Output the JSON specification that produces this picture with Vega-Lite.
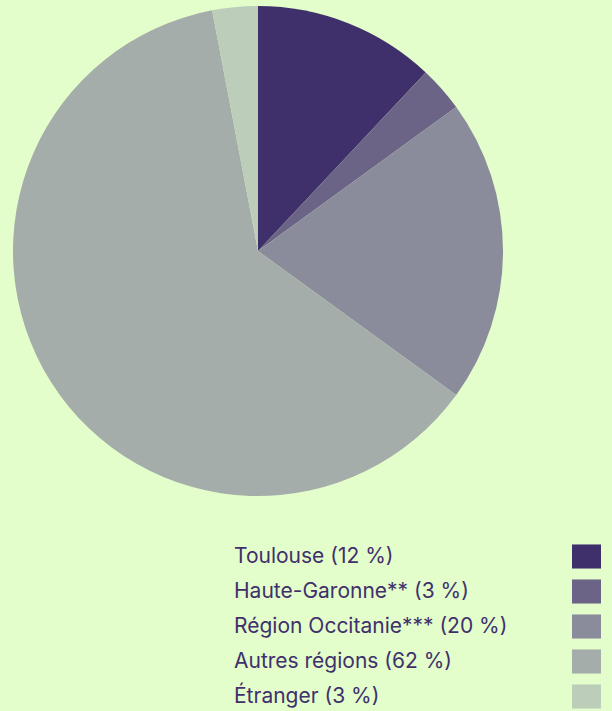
{
  "$schema": "https://vega.github.io/schema/vega-lite/v6.json",
  "width": 516,
  "height": 502,
  "autosize": "none",
  "padding": {"left": 0, "top": 0, "right": 96, "bottom": 209},
  "background": "#e3fdcb",
  "config": {"view": {"stroke": null}},
  "data": {
    "values": [
      {"label": "Toulouse (12 %)", "value": 12, "order": 1},
      {"label": "Haute-Garonne** (3 %)", "value": 3, "order": 2},
      {"label": "Région Occitanie*** (20 %)", "value": 20, "order": 3},
      {"label": "Autres régions (62 %)", "value": 62, "order": 4},
      {"label": "Étranger (3 %)", "value": 3, "order": 5}
    ]
  },
  "mark": {"type": "arc", "outerRadius": 245, "stroke": null},
  "encoding": {
    "theta": {"field": "value", "type": "quantitative", "stack": true},
    "order": {"field": "order", "type": "quantitative", "sort": "ascending"},
    "color": {
      "field": "label",
      "type": "nominal",
      "sort": {"field": "order"},
      "scale": {
        "domain": ["Toulouse (12 %)", "Haute-Garonne** (3 %)", "Région Occitanie*** (20 %)", "Autres régions (62 %)", "Étranger (3 %)"],
        "range": ["#3f306b", "#6b6486", "#8a8b9b", "#a4ada9", "#bccdb9"]
      },
      "legend": {
        "title": null,
        "orient": "none",
        "legendX": 572,
        "legendY": 542,
        "padding": 0,
        "symbolType": "M-1,-0.83H1V0.83H-1Z",
        "symbolSize": 841,
        "symbolStrokeWidth": 0,
        "symbolOpacity": 1,
        "labelOffset": -367,
        "labelFont": "Inter",
        "labelFontSize": 21,
        "labelColor": "#3f306b",
        "labelLimit": 400,
        "rowPadding": 8
      }
    }
  }
}
